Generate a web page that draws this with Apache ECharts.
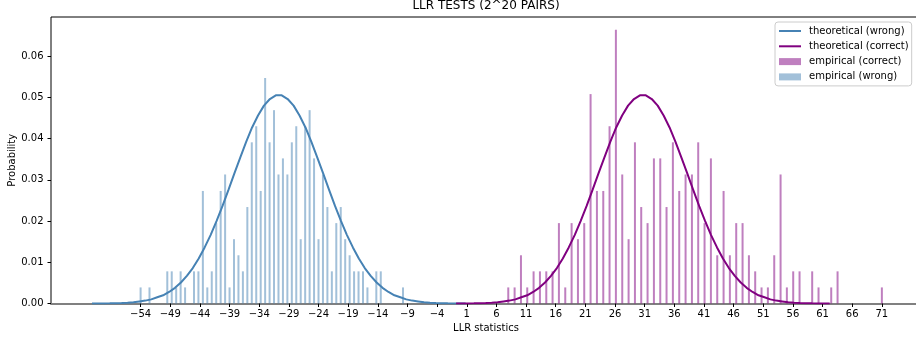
<!DOCTYPE html>
<html><head><meta charset="utf-8">
<script src="https://cdn.jsdelivr.net/npm/echarts@6/dist/echarts.min.js"></script>
<style>html,body{margin:0;padding:0;background:#fff}#c{width:916px;height:340px}</style>
</head><body><div id="c"></div>
<script>
const xTicks = [-54,-49,-44,-39,-34,-29,-24,-19,-14,-9,-4,1,6,11,16,21,26,31,36,41,46,51,56,61,66,71];
const yTicks = [0,0.01,0.02,0.03,0.04,0.05,0.06];

const wrongBarX = [-54,-52.5,-49.5,-48.75,-48,-47.25,-46.5,-45,-44.25,-43.5,-42.75,-42,-41.25,-40.5,-39.75,-39,-38.25,-37.5,-36.75,-36,-35.25,-34.5,-33.75,-33,-32.25,-31.5,-30.75,-30,-29.25,-28.5,-27.75,-27,-26.25,-25.5,-24.75,-24,-23.25,-22.5,-21.75,-21,-20.25,-19.5,-18.75,-18,-17.25,-16.5,-15.75,-14.25,-13.5,-9.75];
const wrongBarP = [0.0039,0.0039,0.0078,0.0078,0.0039,0.0078,0.0039,0.0078,0.0078,0.0273,0.0039,0.0078,0.0195,0.0273,0.0313,0.0039,0.0156,0.0117,0.0078,0.0234,0.0391,0.0430,0.0273,0.0547,0.0391,0.0469,0.0313,0.0352,0.0313,0.0391,0.0430,0.0156,0.0430,0.0469,0.0352,0.0156,0.0313,0.0234,0.0078,0.0195,0.0234,0.0156,0.0117,0.0078,0.0078,0.0078,0.0039,0.0078,0.0078,0.0039];

const correctBarX = [8.00,9.07,10.14,11.20,12.27,13.34,14.41,15.47,16.54,17.61,18.68,19.75,20.81,21.88,22.95,24.02,25.08,26.15,27.22,28.29,29.36,30.42,31.49,32.56,33.63,34.69,35.76,36.83,37.90,38.97,40.03,41.10,42.17,43.24,44.31,45.37,46.44,47.51,48.58,49.64,50.71,51.78,52.85,53.92,54.98,56.05,57.12,59.25,60.32,62.46,63.53,71.00];
const correctBarP = [0.0039,0.0039,0.0117,0.0039,0.0078,0.0078,0.0078,0.0078,0.0195,0.0039,0.0195,0.0156,0.0195,0.0508,0.0273,0.0273,0.0430,0.0664,0.0313,0.0156,0.0391,0.0234,0.0195,0.0352,0.0352,0.0234,0.0391,0.0273,0.0313,0.0313,0.0391,0.0195,0.0352,0.0117,0.0273,0.0117,0.0195,0.0195,0.0117,0.0078,0.0039,0.0039,0.0117,0.0313,0.0039,0.0078,0.0078,0.0078,0.0039,0.0039,0.0078,0.0039];

const wrongCurveX = [-62.2,-61.2,-60.2,-59.2,-58.2,-57.2,-56.2,-55.2,-54.2,-53.2,-52.2,-51.2,-50.2,-49.2,-48.2,-47.2,-46.2,-45.2,-44.2,-43.2,-42.2,-41.2,-40.2,-39.2,-38.2,-37.2,-36.2,-35.2,-34.2,-33.2,-32.2,-31.2,-30.2,-29.2,-28.2,-27.2,-26.2,-25.2,-24.2,-23.2,-22.2,-21.2,-20.2,-19.2,-18.2,-17.2,-16.2,-15.2,-14.2,-13.2,-12.2,-11.2,-10.2,-9.2,-8.2,-7.2,-6.2,-5.2,-4.2,-3.2,-2.2,-1.2,-0.2,0.8];
const wrongCurveY = [0.00001,0.00002,0.00003,0.00005,0.00009,0.00014,0.0002,0.0003,0.0005,0.0007,0.0010,0.0015,0.0020,0.0028,0.0038,0.0051,0.0067,0.0086,0.0109,0.0136,0.0166,0.0200,0.0236,0.0275,0.0315,0.0354,0.0392,0.0427,0.0456,0.0480,0.0496,0.0505,0.0505,0.0496,0.0480,0.0456,0.0427,0.0392,0.0354,0.0315,0.0275,0.0236,0.0200,0.0166,0.0136,0.0109,0.0086,0.0067,0.0051,0.0038,0.0028,0.0020,0.0015,0.0010,0.0007,0.0005,0.0003,0.0002,0.00014,0.00009,0.00005,0.00003,0.00002,0.00001];

const correctCurveX = [-0.8,0.2,1.2,2.2,3.2,4.2,5.2,6.2,7.2,8.2,9.2,10.2,11.2,12.2,13.2,14.2,15.2,16.2,17.2,18.2,19.2,20.2,21.2,22.2,23.2,24.2,25.2,26.2,27.2,28.2,29.2,30.2,31.2,32.2,33.2,34.2,35.2,36.2,37.2,38.2,39.2,40.2,41.2,42.2,43.2,44.2,45.2,46.2,47.2,48.2,49.2,50.2,51.2,52.2,53.2,54.2,55.2,56.2,57.2,58.2,59.2,60.2,61.2,62.2];
const correctCurveY = [0.00001,0.00002,0.00003,0.00005,0.00009,0.00014,0.0002,0.0003,0.0005,0.0007,0.0010,0.0015,0.0020,0.0028,0.0038,0.0051,0.0067,0.0086,0.0109,0.0136,0.0166,0.0200,0.0236,0.0275,0.0315,0.0354,0.0392,0.0427,0.0456,0.0480,0.0496,0.0505,0.0505,0.0496,0.0480,0.0456,0.0427,0.0392,0.0354,0.0315,0.0275,0.0236,0.0200,0.0166,0.0136,0.0109,0.0086,0.0067,0.0051,0.0038,0.0028,0.0020,0.0015,0.0010,0.0007,0.0005,0.0003,0.0002,0.00014,0.00009,0.00005,0.00003,0.00002,0.00001];

const FONT = 'DejaVu Sans';
const LINE_ICON = 'path://M0,0 L22,0 L22,2 L0,2 Z';
const zip = (xs, ys) => xs.map((x, i) => [x, ys[i]]);
const chart = echarts.init(document.getElementById('c'), null, {renderer: 'canvas'});
chart.setOption({
  animation: false,
  textStyle: {fontFamily: FONT},
  title: {
    text: 'LLR TESTS (2^20 PAIRS)', left: 486, textAlign: 'center', top: 0, padding: 0,
    textStyle: {fontFamily: FONT, fontSize: 12, fontWeight: 'normal', color: '#000'}
  },
  legend: {
    orient: 'vertical', left: 775, top: 22, padding: [3, 3, 3, 4],
    itemWidth: 22, itemHeight: 7, itemGap: 3.3, symbolKeepAspect: true,
    backgroundColor: 'rgba(255,255,255,0.8)', borderColor: '#cccccc', borderWidth: 1, borderRadius: 3,
    textStyle: {fontFamily: FONT, fontSize: 10, color: '#000', lineHeight: 12, padding: [0, 0, 0, 3]},
    data: [
      {name: 'theoretical (wrong)', icon: LINE_ICON},
      {name: 'theoretical (correct)', icon: LINE_ICON},
      {name: 'empirical (correct)', icon: 'rect'},
      {name: 'empirical (wrong)', icon: 'rect'}
    ]
  },
  grid: {left: 51, top: 17, width: 870, height: 286.5, show: true, borderColor: '#000', borderWidth: 1,
    backgroundColor: 'transparent', containLabel: false, outerBoundsMode: 'none'},
  xAxis: {
    type: 'value', min: -69.11, max: 77.6,
    name: 'LLR statistics', nameLocation: 'middle', nameGap: 20, nameMoveOverlap: false,
    nameTextStyle: {fontFamily: FONT, fontSize: 10, color: '#000'},
    axisLine: {show: true, onZero: false, lineStyle: {color: '#808080', width: 2}},
    axisTick: {show: true, customValues: xTicks, length: 3.5, lineStyle: {color: '#000', width: 1}},
    axisLabel: {customValues: xTicks, margin: 6, fontFamily: FONT, fontSize: 10, color: '#000',
      formatter: v => (v < 0 ? '\u2212' + (-v) : String(v))},
    splitLine: {show: false}
  },
  yAxis: {
    type: 'value', min: 0, max: 0.0695,
    name: 'Probability', nameLocation: 'middle', nameGap: 34, nameRotate: 90, nameMoveOverlap: false,
    nameTextStyle: {fontFamily: FONT, fontSize: 10, color: '#000'},
    axisLine: {show: false, onZero: false},
    axisTick: {show: true, customValues: yTicks, length: 3.5, lineStyle: {color: '#000', width: 1}},
    axisLabel: {customValues: yTicks, margin: 7.5, fontFamily: FONT, fontSize: 10, color: '#000',
      formatter: v => v.toFixed(2)},
    splitLine: {show: false}
  },
  series: [
    {name: 'empirical (correct)', type: 'bar', data: zip(correctBarX, correctBarP), barWidth: 2, barGap: '-100%',
      itemStyle: {color: 'rgba(128,0,128,0.5)'}},
    {name: 'empirical (wrong)', type: 'bar', data: zip(wrongBarX, wrongBarP), barWidth: 2, barGap: '-100%',
      itemStyle: {color: 'rgba(70,130,180,0.5)'}},
    {name: 'theoretical (wrong)', type: 'line', data: zip(wrongCurveX, wrongCurveY), symbol: 'none',
      lineStyle: {color: '#4682b4', width: 2}, itemStyle: {color: '#4682b4'}},
    {name: 'theoretical (correct)', type: 'line', data: zip(correctCurveX, correctCurveY), symbol: 'none',
      lineStyle: {color: '#800080', width: 2}, itemStyle: {color: '#800080'}}
  ]
});
</script></body></html>
